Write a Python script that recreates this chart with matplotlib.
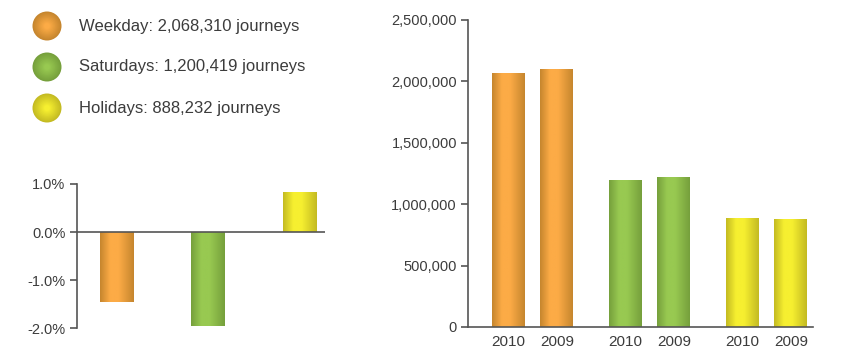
import matplotlib
matplotlib.use("Agg")
import matplotlib.pyplot as plt
import numpy as np
from matplotlib.colors import LinearSegmentedColormap, to_rgb
from matplotlib.patches import Ellipse
from matplotlib.ticker import FuncFormatter

# data
categories = ["Weekday", "Saturdays", "Holidays"]
journeys_2010 = [2068310, 1200419, 888232]
journeys_2009 = [2099000, 1224300, 880700]
pct_change = [-1.46, -1.95, 0.84]
years = ["2010", "2009"]

DARK = ["#c6862e", "#76a03c", "#c4bb22"]
LIGHT = ["#fcab46", "#98c951", "#f6ef30"]
TEXT = "#3c3c3c"
AXIS = "#555555"
W, H = 852, 355

plt.rcParams["font.family"] = ["Liberation Sans", "DejaVu Sans"]


def gradient_bars(ax, bars, dark, light):
    cmap = LinearSegmentedColormap.from_list(
        "g", [(0, dark), (0.3, light), (0.55, light), (1, dark)])
    grad = np.linspace(0, 1, 64).reshape(1, -1)
    for bar in bars:
        x0, y0 = bar.get_x(), bar.get_y()
        w, h = bar.get_width(), bar.get_height()
        im = ax.imshow(grad, cmap=cmap, aspect="auto",
                       extent=[x0, x0 + w, y0, y0 + h], zorder=2)
        im.set_clip_path(bar)
        bar.set_alpha(0)


fig = plt.figure(figsize=(W / 100, H / 100), dpi=100)

# legend: shaded circles with labels
for i, (cat, val) in enumerate(zip(categories, journeys_2010)):
    cy = 1 - (26 + i * 41) / H
    d, l = np.array(to_rgb(DARK[i])), np.array(to_rgb(LIGHT[i]))
    for k, r in enumerate(np.linspace(14.5, 3, 10)):
        t = k / 9
        fig.patches.append(Ellipse((47 / W, cy), 2 * r / W, 2 * r / H,
                                   transform=fig.transFigure, color=d + (l - d) * t,
                                   lw=0))
    fig.text(79 / W, cy, f"{cat}: {val:,} journeys", fontsize=12, color=TEXT,
             va="center", ha="left")

# left: percent change
ax1 = fig.add_axes([0.090, 0.076, 0.2915, 0.4057])
x1 = np.arange(len(categories))
bars1 = ax1.bar(x1, pct_change, width=0.36, color=DARK)
ax1.set_xlim(-0.429, 2.28)
ax1.set_ylim(-2.0, 1.0)
ax1.set_yticks([1.0, 0.0, -1.0, -2.0])
ax1.yaxis.set_major_formatter(FuncFormatter(lambda v, p: f"{v:.1f}%"))
ax1.axhline(0, color=AXIS, lw=1.2, zorder=3)
ax1.set_xticks([])
for s in ["top", "right", "bottom"]:
    ax1.spines[s].set_visible(False)
ax1.spines["left"].set_color(AXIS)
ax1.spines["left"].set_linewidth(1.2)
ax1.tick_params(axis="y", colors=AXIS, labelcolor=TEXT, labelsize=10.5, length=5, width=1.2, pad=3)
for i, b in enumerate(bars1):
    gradient_bars(ax1, [b], DARK[i], LIGHT[i])

# right: journeys by year
ax2 = fig.add_axes([0.5493, 0.0789, 0.4049, 0.8648])
offset = 0.207
xa = np.arange(len(categories)) - offset
xb = np.arange(len(categories)) + offset
bars_a = ax2.bar(xa, journeys_2010, width=0.282, color=DARK)
bars_b = ax2.bar(xb, journeys_2009, width=0.282, color=DARK)
ax2.set_xlim(-0.553, 2.395)
ax2.set_ylim(0, 2500000)
ax2.set_yticks(np.arange(0, 2500001, 500000))
ax2.yaxis.set_major_formatter(FuncFormatter(lambda v, p: f"{v:,.0f}"))
ax2.set_xticks(np.concatenate([xa, xb]))
ax2.set_xticklabels([years[0]] * 3 + [years[1]] * 3)
for s in ["top", "right"]:
    ax2.spines[s].set_visible(False)
for s in ["left", "bottom"]:
    ax2.spines[s].set_color(AXIS)
    ax2.spines[s].set_linewidth(1.2)
ax2.tick_params(axis="y", colors=AXIS, labelcolor=TEXT, labelsize=10.5, length=5, width=1.2, pad=3)
ax2.tick_params(axis="x", length=0, labelcolor=TEXT, labelsize=11, pad=6)
for i in range(3):
    gradient_bars(ax2, [bars_a[i], bars_b[i]], DARK[i], LIGHT[i])

fig.savefig("out.png", dpi=100)
